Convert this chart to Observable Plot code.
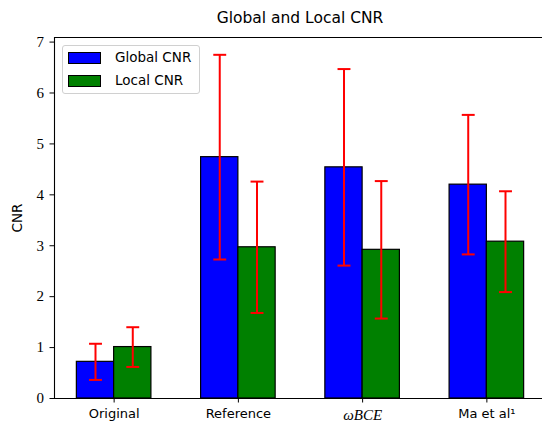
<!DOCTYPE html>
<html>
<head>
<meta charset="utf-8">
<script src="https://cdn.jsdelivr.net/npm/d3@7"></script>
<script src="https://cdn.jsdelivr.net/npm/@observablehq/plot@0.6"></script>
<style>
  body { margin: 0; background: #fff; }
  #chart { position: relative; width: 542px; height: 425px; overflow: hidden; font-family: "DejaVu Sans", sans-serif; }
  #chart svg { position: absolute; left: 0; top: 0; }
  #title { position: absolute; left: 54px; width: 492px; top: 9px; text-align: center; font-size: 15.5px; color: #000; }
  #legend { position: absolute; left: 62px; top: 45px; width: 138px; height: 49px; box-sizing: border-box;
            border: 1px solid #d0d0d0; border-radius: 3px; background: rgba(255,255,255,0.8); }
  .entry { position: absolute; left: 5px; height: 12px; font-size: 13.5px; line-height: 12px; }
  .swatch { position: absolute; left: 0; top: 0; width: 31px; height: 10px; border: 1px solid #000; }
  .entry span { position: absolute; left: 47px; top: -1px; white-space: nowrap; }
  #chart g[aria-label="y-axis tick label"] { font-family: "Liberation Serif", serif; font-size: 15px; }
  #chart g[aria-label="x-axis tick label"] { font-family: "DejaVu Sans", sans-serif; font-size: 13px; }
</style>
</head>
<body>
<div id="chart">
  <div id="title">Global and Local CNR</div>
</div>
<script>
// Mean CNR and its standard deviation for each method
const methods = ["Original", "Reference", "ωBCE", "Ma et al¹"];
const seriesNames = ["Global CNR", "Local CNR"];
const seriesColors = ["#0000ff", "#008000"];
const globalCNR = [0.72, 4.74, 4.54, 4.20];
const globalStd = [0.355, 2.01, 1.93, 1.37];
const localCNR = [1.01, 2.97, 2.92, 3.08];
const localStd = [0.39, 1.29, 1.35, 0.99];
const yTicks = [0, 1, 2, 3, 4, 5, 6, 7];

const barWidth = 0.3;
const capHalf = 0.052;
const xDomain = [-0.48, 3.48];
const yDomain = [0, 7.09];

// Global bars sit left of each tick, local bars to the right
const rows = [];
methods.forEach((m, i) => {
  rows.push({series: seriesNames[0], x1: i - barWidth, x2: i, value: globalCNR[i], std: globalStd[i]});
  rows.push({series: seriesNames[1], x1: i, x2: i + barWidth, value: localCNR[i], std: localStd[i]});
});
const center = d => (d.x1 + d.x2) / 2;

const chart = Plot.plot({
  width: 542,
  height: 425,
  marginLeft: 54,
  marginRight: -4,
  marginTop: 37,
  marginBottom: 27,
  style: {fontFamily: "DejaVu Sans, sans-serif", fontSize: "13px", color: "#000", background: "transparent"},
  x: {type: "linear", domain: xDomain},
  y: {domain: yDomain},
  color: {domain: seriesNames, range: seriesColors},
  marks: [
    Plot.rectY(rows, {x1: "x1", x2: "x2", y1: 0, y2: "value", fill: "series", stroke: "#000", strokeWidth: 1.2}),
    Plot.link(rows, {x1: center, x2: center, y1: d => d.value - d.std, y2: d => d.value + d.std, stroke: "red", strokeWidth: 2}),
    Plot.link(rows, {x1: d => center(d) - capHalf, x2: d => center(d) + capHalf, y1: d => d.value + d.std, y2: d => d.value + d.std, stroke: "red", strokeWidth: 2}),
    Plot.link(rows, {x1: d => center(d) - capHalf, x2: d => center(d) + capHalf, y1: d => d.value - d.std, y2: d => d.value - d.std, stroke: "red", strokeWidth: 2}),
    // Axes spines: left, bottom and top (the right one falls past the edge)
    Plot.ruleX([xDomain[0]], {stroke: "#000", strokeWidth: 1.1}),
    Plot.ruleY(yDomain, {stroke: "#000", strokeWidth: 1.1}),
    Plot.axisY({ticks: yTicks, tickFormat: d => d, tickSize: 4.5, tickPadding: 6, label: "CNR", labelAnchor: "center", labelArrow: false, labelOffset: 42, fontSize: 13.5}),
    Plot.axisX({ticks: methods.map((m, i) => i), tickFormat: i => methods[i], tickSize: 4.5, tickPadding: 6, label: null})
  ]
});

const host = document.getElementById("chart");
host.insertBefore(chart, host.firstChild);

// Math-style italic for the ωBCE label
d3.select(chart).selectAll('g[aria-label="x-axis tick label"] text')
  .filter(function () { return this.textContent === "ωBCE"; })
  .style("font-family", "'Liberation Serif', serif")
  .style("font-style", "italic")
  .style("font-size", "15px");

// Legend in the upper-left corner of the axes
const legend = d3.select(host).append("div").attr("id", "legend");
seriesNames.forEach((name, k) => {
  const e = legend.append("div").attr("class", "entry").style("top", (6 + k * 23) + "px");
  e.append("div").attr("class", "swatch").style("background", seriesColors[k]);
  e.append("span").text(name);
});
</script>
</body>
</html>
